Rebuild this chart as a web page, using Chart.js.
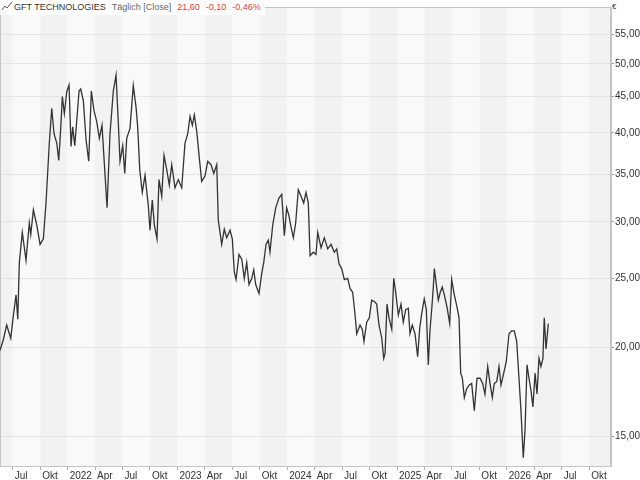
<!DOCTYPE html>
<html>
<head>
<meta charset="utf-8">
<script src="https://cdn.jsdelivr.net/npm/chart.js@4"></script>
<style>
  body { margin: 0; background: #fff; }
  #wrap { position: relative; width: 640px; height: 480px; }
  #head { position: absolute; left: 0; top: 0; height: 15px; padding: 0 4px 0 1px; background: #fff;
          font: 9px "Liberation Sans", sans-serif; line-height: 15px; color: #333; white-space: nowrap; }
  #head svg { vertical-align: -1px; margin-right: 1px; }
  #head .mode { color: #666; margin-left: 6px; }
  #head .red { color: #e23b34; margin-left: 6px; }
  #euro { position: absolute; left: 612px; top: 2px; font: 8px "Liberation Sans", sans-serif; color: #333; }
</style>
</head>
<body>
<div id="wrap">
  <canvas id="chart"></canvas>
  <div id="head"><svg width="12" height="10"><polyline points="1,9 4,5 6,7 11,1" fill="none" stroke="#555" stroke-width="1"/></svg>GFT TECHNOLOGIES<span class="mode">Täglich [Close]</span><span class="red">21,60</span><span class="red">-0,10</span><span class="red">-0,46%</span></div>
  <div id="euro">€</div>
</div>
<script>
// dates as decimal years, close prices in EUR
const dates = [
  2021.384, 2021.414, 2021.445, 2021.482, 2021.503, 2021.530, 2021.546, 2021.560, 2021.587, 2021.621,
  2021.651, 2021.664, 2021.688, 2021.719, 2021.749, 2021.779, 2021.803, 2021.833, 2021.855, 2021.876,
  2021.901, 2021.919, 2021.937, 2021.952, 2021.970, 2021.992,
  2022.013, 2022.031, 2022.046, 2022.065, 2022.083, 2022.104, 2022.119, 2022.143, 2022.168, 2022.192,
  2022.216, 2022.240, 2022.265, 2022.289, 2022.313, 2022.334, 2022.359, 2022.386, 2022.416, 2022.441,
  2022.462, 2022.477, 2022.502, 2022.520, 2022.538, 2022.568, 2022.598, 2022.623, 2022.638, 2022.657,
  2022.680, 2022.705, 2022.735, 2022.750, 2022.771, 2022.790, 2022.814, 2022.832, 2022.857, 2022.878,
  2022.903, 2022.926, 2022.948, 2022.978,
  2023.008, 2023.039, 2023.069, 2023.094, 2023.115, 2023.136, 2023.154, 2023.176, 2023.197, 2023.221,
  2023.251, 2023.276, 2023.306, 2023.331, 2023.358, 2023.372, 2023.403, 2023.427, 2023.449, 2023.479,
  2023.500, 2023.518, 2023.534, 2023.561, 2023.586, 2023.609, 2023.631, 2023.652, 2023.677, 2023.695,
  2023.713, 2023.743, 2023.768, 2023.786, 2023.807, 2023.828, 2023.843, 2023.868, 2023.895, 2023.925,
  2023.950, 2023.974, 2023.995,
  2024.016, 2024.035, 2024.056, 2024.077, 2024.101, 2024.126, 2024.150, 2024.171, 2024.192, 2024.208,
  2024.238, 2024.262, 2024.278, 2024.308, 2024.338, 2024.369, 2024.399, 2024.429, 2024.451, 2024.472,
  2024.496, 2024.520, 2024.551, 2024.572, 2024.596, 2024.617, 2024.633, 2024.663, 2024.684, 2024.699,
  2024.724, 2024.748, 2024.769, 2024.793, 2024.815, 2024.836, 2024.861, 2024.879, 2024.891, 2024.909,
  2024.927, 2024.952, 2024.970, 2024.988,
  2025.012, 2025.036, 2025.057, 2025.079, 2025.103, 2025.118, 2025.139, 2025.164, 2025.188, 2025.207,
  2025.225, 2025.248, 2025.267, 2025.285, 2025.300, 2025.316, 2025.330, 2025.340, 2025.358, 2025.376,
  2025.394, 2025.412, 2025.431, 2025.455, 2025.480, 2025.498, 2025.522, 2025.546, 2025.565, 2025.580,
  2025.595, 2025.613, 2025.635, 2025.656, 2025.680, 2025.704, 2025.729, 2025.756, 2025.780, 2025.801,
  2025.826, 2025.847, 2025.868, 2025.886, 2025.908, 2025.929, 2025.947, 2025.972, 2025.995,
  2026.020, 2026.044, 2026.068, 2026.090, 2026.111, 2026.129, 2026.150, 2026.166, 2026.184, 2026.202,
  2026.220, 2026.238, 2026.257, 2026.275, 2026.293, 2026.311, 2026.329, 2026.341, 2026.357, 2026.378
];
const closes = [
  19.8, 20.5, 21.5, 20.6, 22.0, 23.7, 21.9, 26.3, 29.0, 26.5,
  29.9, 28.8, 31.2, 29.7, 27.9, 28.4, 31.9, 38.7, 43.3, 39.9,
  38.7, 36.6, 40.6, 45.0, 42.6, 45.7,
  46.7, 38.3, 40.8, 38.4, 41.6, 45.8, 46.1, 44.4, 39.1, 36.5,
  45.8, 43.0, 41.5, 39.3, 41.0, 36.3, 31.4, 39.9, 45.8, 48.2,
  41.2, 36.5, 38.4, 35.1, 39.3, 40.6, 46.6, 43.5, 40.8, 35.5,
  33.0, 34.9, 31.6, 29.2, 32.2, 29.7, 28.4, 34.4, 32.6, 37.2,
  35.5, 33.8, 36.1, 33.5,
  34.4, 33.5, 38.7, 39.9, 42.2, 41.0, 42.4, 40.2, 37.2, 34.2,
  34.8, 36.5, 36.1, 35.1, 36.1, 30.2, 27.9, 29.3, 28.5, 29.2,
  28.4, 25.5, 24.9, 27.0, 26.6, 25.0, 26.3, 24.5, 25.0, 25.7,
  24.5, 23.8, 25.4, 26.3, 27.9, 28.3, 27.2, 29.7, 31.4, 32.4,
  32.8, 28.7, 31.4,
  30.6, 29.5, 28.5, 29.9, 33.3, 32.6, 31.9, 33.0, 31.9, 26.9,
  27.2, 27.0, 29.0, 27.6, 28.5, 27.5, 27.9, 27.2, 27.5, 26.2,
  25.8, 24.9, 25.0, 24.2, 23.9, 22.3, 20.9, 21.5, 21.2, 20.4,
  21.7, 22.0, 23.3, 23.2, 23.0, 21.5, 20.6, 19.3, 19.6, 23.0,
  22.0, 21.2, 25.0, 23.9,
  22.2, 23.0, 21.7, 22.6, 22.7, 20.9, 21.5, 20.9, 19.4, 21.3,
  22.3, 23.4, 22.6, 18.9, 21.1, 22.6, 24.2, 25.8, 24.5, 23.3,
  23.9, 24.3, 23.7, 22.8, 21.6, 24.9, 23.7, 22.8, 22.0, 18.4,
  18.1, 17.0, 17.5, 17.7, 17.8, 16.3, 18.1, 18.1, 17.8, 17.2,
  18.8, 17.8, 17.0, 17.8, 17.9, 18.8, 17.7, 18.4, 19.1,
  20.9, 21.1, 21.1, 20.4, 18.1, 16.3, 14.0, 15.3, 18.9, 18.1,
  17.4, 16.5, 18.4, 17.2, 19.3, 18.8, 19.3, 22.0, 19.9, 21.6
];
const yTicks = [15, 20, 25, 30, 35, 40, 45, 50, 55];
const quarterNames = ['', 'Apr', 'Jul', 'Okt'];
const firstQuarterTick = 2021.5;
const lastQuarterTick = 2026.75;

const points = dates.map((d, i) => ({ x: d, y: closes[i] }));

// alternating quarter shading + frame
const quarterBands = {
  id: 'quarterBands',
  beforeDraw(chart) {
    const { ctx, chartArea: a, scales: { x } } = chart;
    ctx.save();
    for (let q = Math.floor(x.min * 4) / 4; q < x.max; q += 0.25) {
      const x1 = Math.max(a.left, x.getPixelForValue(q));
      const x2 = Math.min(a.right, x.getPixelForValue(q + 0.25));
      const k = Math.round(q * 4) % 4;
      ctx.fillStyle = (k % 2 === 0) ? '#f9f9f9' : '#f2f2f2';
      ctx.fillRect(x1, a.top, x2 - x1, a.bottom - a.top);
    }
    ctx.restore();
  },
  beforeDatasetsDraw(chart) {
    const { ctx, chartArea: a } = chart;
    ctx.save();
    ctx.strokeStyle = '#c4c4c4';
    ctx.lineWidth = 1;
    ctx.strokeRect(a.left + 0.5, a.top + 0.5, a.right - a.left - 1, a.bottom - a.top);
    ctx.restore();
  }
};

new Chart(document.getElementById('chart'), {
  type: 'line',
  data: {
    datasets: [{
      label: 'GFT TECHNOLOGIES',
      data: points,
      borderColor: '#333',
      borderWidth: 1.3,
      pointRadius: 0,
      tension: 0
    }]
  },
  options: {
    responsive: true,
    maintainAspectRatio: false,
    animation: false,
    layout: { padding: { top: 2, left: 0, right: 0, bottom: 0 } },
    plugins: { legend: { display: false }, tooltip: { enabled: false } },
    scales: {
      x: {
        type: 'linear',
        min: 2021.384,
        max: 2026.949,
        afterBuildTicks: (scale) => {
          const t = [];
          for (let q = firstQuarterTick; q <= lastQuarterTick + 1e-9; q += 0.25) t.push({ value: q });
          scale.ticks = t;
        },
        afterFit: (scale) => { scale.height = 14; },
        grid: { drawOnChartArea: false, drawTicks: true, tickLength: 4, tickColor: '#b0b0b0' },
        border: { color: '#c4c4c4' },
        ticks: {
          autoSkip: false,
          maxRotation: 0,
          align: 'start',
          labelOffset: 2,
          padding: 0,
          color: '#333',
          font: { family: 'Liberation Sans', size: 10 },
          callback: (v) => {
            const k = Math.round(v * 4) % 4;
            return k === 0 ? String(Math.round(v)) : quarterNames[k];
          }
        }
      },
      y: {
        type: 'logarithmic',
        position: 'right',
        min: 13.63,
        max: 60.1,
        afterBuildTicks: (scale) => { scale.ticks = yTicks.map(v => ({ value: v })); },
        afterFit: (scale) => { scale.width = 29; },
        grid: { color: '#e4e4e4', tickLength: 3, tickColor: '#999' },
        border: { color: '#c4c4c4' },
        ticks: {
          padding: 1,
          color: '#333',
          font: { family: 'Liberation Sans', size: 10 },
          callback: (v) => v.toFixed(2).replace('.', ',')
        }
      }
    }
  },
  plugins: [quarterBands]
});
</script>
</body>
</html>
